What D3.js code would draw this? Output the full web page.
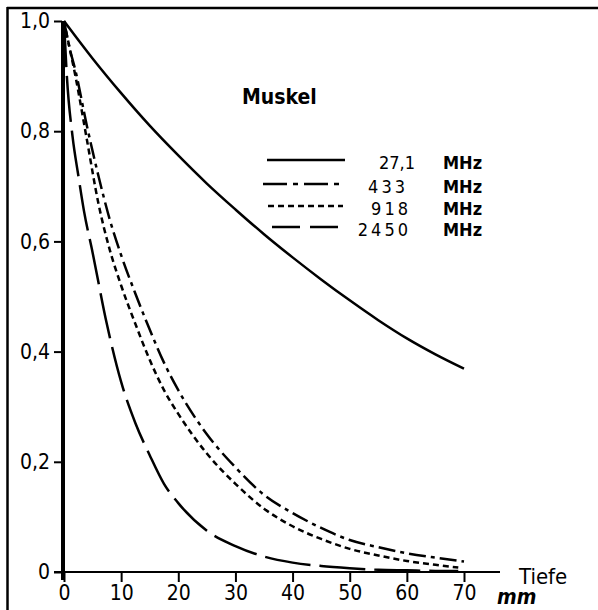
<!DOCTYPE html>
<html>
<head>
<meta charset="utf-8">
<style>
    body { margin: 0; background: white; }
    svg text { font-family: "DejaVu Sans Condensed", "Liberation Sans Narrow", "DejaVu Sans", sans-serif; fill: black; }
</style>
</head>
<body>
<div class="board"></div>
<script src="https://cdnjs.cloudflare.com/ajax/libs/d3/7.8.5/d3.min.js"></script>
<script>
    // depth in mm, relative value
    var depth27 = [0, 5, 10, 15, 20, 25, 30, 35, 40, 45, 50, 55, 60, 65, 70]
    var value27 = [1.0, 0.932, 0.869, 0.81, 0.756, 0.705, 0.658, 0.613, 0.571, 0.531, 0.493, 0.457, 0.424, 0.395, 0.369]

    var depth433 = [0, 1, 2, 4, 6, 8, 10, 12.5, 15, 17.5, 20, 25, 30, 35, 40, 45, 50, 55, 60, 65, 70]
    var value433 = [1.0, 0.95, 0.91, 0.81, 0.72, 0.64, 0.575, 0.505, 0.44, 0.38, 0.33, 0.25, 0.19, 0.14, 0.107, 0.08, 0.058, 0.045, 0.034, 0.026, 0.019]

    var depth918 = [0, 1, 2, 4, 6, 8, 10, 12.5, 15, 17.5, 20, 25, 30, 35, 40, 45, 50, 55, 60, 65, 69]
    var value918 = [1.0, 0.95, 0.9, 0.785, 0.67, 0.585, 0.52, 0.45, 0.385, 0.33, 0.287, 0.215, 0.16, 0.115, 0.083, 0.06, 0.042, 0.03, 0.02, 0.013, 0.008]

    var depth2450 = [0, 0.5, 1.5, 2.5, 3.5, 5, 7.5, 10, 12.5, 15, 17.5, 20, 25, 30, 35, 40, 45, 50, 55, 60, 65, 69]
    var value2450 = [1.0, 0.9, 0.79, 0.72, 0.655, 0.58, 0.45, 0.345, 0.27, 0.212, 0.16, 0.125, 0.075, 0.047, 0.028, 0.017, 0.011, 0.007, 0.004, 0.003, 0.002, 0.002]

    var xTicks = [0, 10, 20, 30, 40, 50, 60, 70]
    var yTicks = [0, 0.2, 0.4, 0.6, 0.8, 1.0]

    var legendNames = ["27,1", "433", "918", "2450"]

    var width = 598, height = 610

    var svg = d3.select(".board")
        .append("svg")
        .attr("width", width)
        .attr("height", height)

    var x = d3.scaleLinear().domain([0, 70]).range([64, 464])
    var y = d3.scaleLinear().domain([0, 1]).range([572, 21])

    // frame (top and left edge of the scan)
    svg.append("line").attr("x1", 7).attr("y1", 8).attr("x2", 598).attr("y2", 8)
        .attr("stroke", "black").attr("stroke-width", 2.5)
    svg.append("line").attr("x1", 7.5).attr("y1", 7).attr("x2", 7.5).attr("y2", 610)
        .attr("stroke", "black").attr("stroke-width", 2.5)

    // axes
    svg.append("line").attr("x1", 54).attr("y1", y(0)).attr("x2", 500).attr("y2", y(0))
        .attr("stroke", "black").attr("stroke-width", 2)
    svg.append("line").attr("x1", x(0) - 1).attr("y1", y(0) + 8).attr("x2", x(0) - 1).attr("y2", y(1))
        .attr("stroke", "black").attr("stroke-width", 4)

    var xAxis = d3.axisBottom(x).tickValues(xTicks).tickSize(10).tickPadding(3)
        .tickFormat(d => d)
    var gx = svg.append("g").attr("transform", "translate(0," + y(0) + ")").call(xAxis)
    gx.select(".domain").remove()
    gx.selectAll(".tick line").attr("stroke", "black").attr("stroke-width", 2)
    gx.selectAll(".tick text").attr("font-size", 21).attr("fill", "black")
        .style("font-family", "DejaVu Sans Condensed, sans-serif")

    var yAxis = d3.axisLeft(y).tickValues(yTicks).tickSize(8).tickPadding(4)
        .tickFormat(d => d === 0 ? "0" : d3.format(".1f")(d).replace(".", ","))
    var gy = svg.append("g").attr("transform", "translate(" + (x(0) - 2) + ",0)").call(yAxis)
    gy.select(".domain").remove()
    gy.selectAll(".tick line").attr("stroke", "black").attr("stroke-width", 2)
    gy.selectAll(".tick text").attr("font-size", 21).attr("fill", "black")
        .style("font-family", "DejaVu Sans Condensed, sans-serif")

    svg.append("text").attr("x", 519).attr("y", 584).attr("font-size", 22).text("Tiefe")
    svg.append("text").attr("x", 497).attr("y", 604).attr("font-size", 21)
        .attr("font-style", "italic").attr("font-weight", "bold").text("mm")

    svg.append("text").attr("x", 242).attr("y", 104).attr("font-size", 21)
        .attr("font-weight", "bold").text("Muskel")

    // curves
    var line = d3.line().x(d => x(d[0])).y(d => y(d[1])).curve(d3.curveMonotoneX)

    var series = [
        { xs: depth27, ys: value27, dash: null },
        { xs: depth433, ys: value433, dash: "17,5,4,5" },
        { xs: depth918, ys: value918, dash: "6,4" },
        { xs: depth2450, ys: value2450, dash: "46,9" }
    ]

    series.forEach(s => {
        svg.append("path")
            .datum(d3.zip(s.xs, s.ys))
            .attr("fill", "none")
            .attr("stroke", "black")
            .attr("stroke-width", 2.5)
            .attr("stroke-dasharray", s.dash)
            .attr("d", line)
    })

    // legend
    var legendY = [160, 184, 206, 227]
    var legendX1 = [267, 263, 268, 272]
    var legendX2 = [345, 343, 343, 342]
    var legendDash = [null, "24,6,5,6", "6,4", "28,10"]
    var legendTextX = [415, 408, 411, 411]

    legendNames.forEach((name, i) => {
        svg.append("line")
            .attr("x1", legendX1[i]).attr("x2", legendX2[i])
            .attr("y1", legendY[i]).attr("y2", legendY[i])
            .attr("stroke", "black").attr("stroke-width", 2.5)
            .attr("stroke-dasharray", legendDash[i])
        svg.append("text")
            .attr("x", legendTextX[i]).attr("y", legendY[i] + 9)
            .attr("text-anchor", "end").attr("font-size", 18)
            .attr("letter-spacing", i === 0 ? 0 : 3)
            .text(name)
        svg.append("text")
            .attr("x", 443).attr("y", legendY[i] + 9)
            .attr("font-size", 18).attr("font-weight", "bold")
            .text("MHz")
    })
</script>
</body>
</html>
